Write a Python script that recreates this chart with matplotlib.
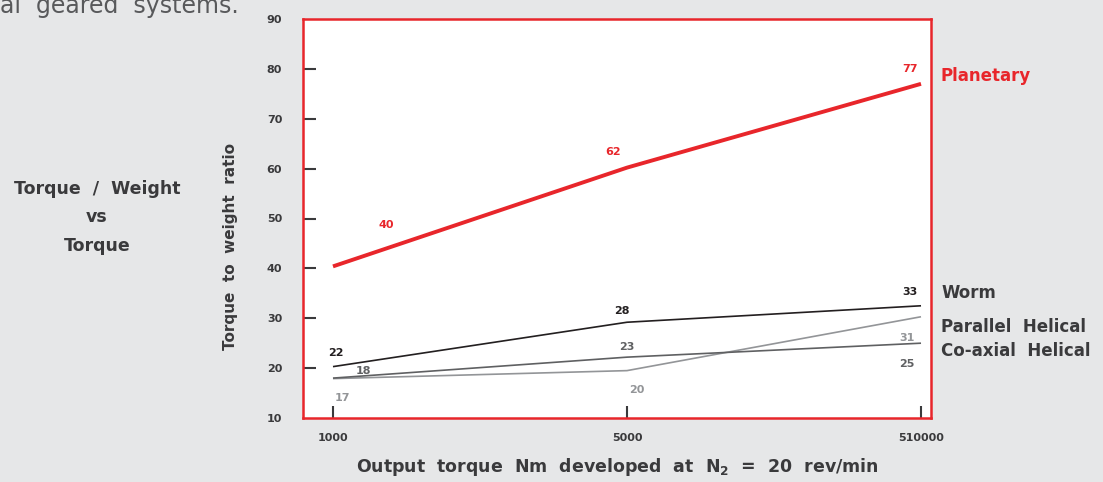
import matplotlib
matplotlib.use("Agg")
import matplotlib.pyplot as plt

plt.rcParams['font.family'] = ['DejaVu Sans']
plt.rcParams['mathtext.fontset'] = 'dejavusans'

categories = ["1000", "5000", "510000"]
series_names = ["Planetary", "Worm", "Parallel Helical", "Co-axial Helical"]
planetary = [40.4, 60.2, 77.0]
worm = [20.3, 29.2, 32.5]
parallel_helical = [17.9, 19.5, 30.3]
coaxial_helical = [18.0, 22.2, 25.0]
planetary_labels = ["40", "62", "77"]
worm_labels = ["22", "28", "33"]
parallel_labels = ["17", "20", "31"]
coaxial_labels = ["18", "23", "25"]
yticks = [10, 20, 30, 40, 50, 60, 70, 80, 90]

RED = "#e8262b"
DARK = "#3a3a3c"
BG = "#e6e7e8"

fig = plt.figure(figsize=(11.03, 4.82), dpi=100, facecolor=BG)
ax = fig.add_axes([303/1103, 1-418/482, (931-303)/1103, (418-19)/482])
ax.set_facecolor("white")
for s in ax.spines.values():
    s.set_color(RED)
    s.set_linewidth(1.8)

x = list(range(len(categories)))
series = [
    (planetary, planetary_labels, RED, 2.8, [(38, 30), (-10, 11), (-8, 11)]),
    (worm, worm_labels, "#231f20", 1.2, [(2, 10), (-4, 8), (-8, 10)]),
    (parallel_helical, parallel_labels, "#939598", 1.2, [(7, -14), (7, -14), (-10, -15)]),
    (coaxial_helical, coaxial_labels, "#5f6062", 1.2, [(22, 5), (0, 7), (-10, -15)]),
]
for vals, labs, col, lw, offs in series:
    ax.plot(x, vals, color=col, lw=lw, solid_capstyle='butt')
    for xi, v, lab, off in zip(x, vals, labs, offs):
        ax.annotate(lab, (xi, v), xytext=off, textcoords='offset points',
                    ha='center', va='center', fontsize=8, fontweight='bold',
                    color=col)

ax.set_xlim(-0.102, 2.034)
ax.set_ylim(10, 90)
ax.set_xticks(x)
ax.set_xticklabels(categories)
ax.set_yticks(yticks)
ax.set_yticklabels([str(t) for t in yticks])
ax.tick_params(axis='y', direction='in', length=9, width=1.5, color=DARK,
               pad=15, labelsize=8, labelcolor=DARK)
ax.tick_params(axis='x', direction='in', length=9, width=1.5, color=DARK,
               pad=11, labelsize=8, labelcolor=DARK)
for lab in ax.get_xticklabels() + ax.get_yticklabels():
    lab.set_fontweight('bold')
for t in (ax.yaxis.get_major_ticks()[0], ax.yaxis.get_major_ticks()[-1]):
    t.tick1line.set_visible(False)

fig.text(231/1103, 1-247/482, "Torque  to  weight  ratio", fontsize=11,
         fontweight='bold', color=DARK, rotation=90, ha='center', va='center')
ax.set_xlabel(r"Output  torque  Nm  developed  at  N$_\mathbf{2}$  =  20  rev/min",
              fontsize=12.5, fontweight='bold', color=DARK, labelpad=9)

name_y = {"Planetary": 76, "Worm": 293, "Parallel Helical": 327, "Co-axial Helical": 351}
name_col = {"Planetary": RED}
for n in series_names:
    fig.text(941/1103, 1-name_y[n]/482, n.replace(" ", "  "), fontsize=12,
             fontweight='bold', color=name_col.get(n, DARK), va='center', ha='left')

for txt, yy in [("Torque  /  Weight", 189), ("vs", 217), ("Torque", 246)]:
    fig.text(97/1103, 1-yy/482, txt, fontsize=12.5, fontweight='bold', color=DARK,
             ha='center', va='center')

fig.text(0.0, 1-13/482, "al  geared  systems.", fontsize=17, color="#58595b",
         ha='left', va='baseline')

fig.savefig("out.png", dpi=100, facecolor=BG)
